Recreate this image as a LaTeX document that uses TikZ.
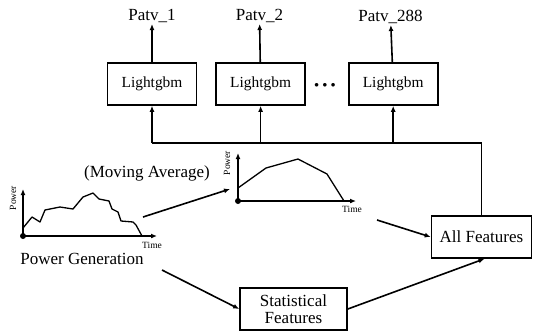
\documentclass[tikz,border=0pt]{standalone}
\usepackage{fontspec}
\setmainfont{Liberation Serif}
\usetikzlibrary{arrows.meta,positioning}
\tikzstyle{arrow} = [line width=1.6pt,-{Latex[length=6pt,width=5pt]}]
\tikzstyle{axis} = [line width=1.6pt,-{Latex[length=6pt,width=5pt]}]
\tikzstyle{curve} = [line width=1.3pt, line join=round]
\tikzstyle{model} = [rectangle, draw, line width=1.6pt, minimum width=89pt, minimum height=42pt, font=\fontsize{15.4}{18}\selectfont]
\tikzstyle{feature} = [rectangle, draw, line width=1.6pt, minimum height=42pt, align=center, font=\fontsize{17}{17}\selectfont]
\tikzstyle{txt} = [inner sep=1pt, font=\fontsize{17}{20}\selectfont]
\tikzstyle{small} = [inner sep=0pt, font=\fontsize{9.5}{11}\selectfont]

\begin{document}
\begin{tikzpicture}[x=1pt, y=-1pt]
\useasboundingbox (0,0) rectangle (533,333);
% Models
\node (lgb1) [model] at (152,84) {Lightgbm};
\node (lgb2) [model, right=18pt of lgb1] {Lightgbm};
\node (lgb3) [model, right=42pt of lgb2] {Lightgbm};
\node (dots) at (325,85) {\fontsize{9}{9}\selectfont$\bullet\,\bullet\,\bullet$};

% Outputs
\node (out1) [txt, anchor=south] at (152,24) {Patv\_1};
\node (out2) [txt, anchor=south] at (259.5,24) {Patv\_2};
\node (out3) [txt, anchor=south] at (390.5,25) {Patv\_288};
\draw[arrow] (lgb1) -- (out1);
\draw[arrow] (lgb2) -- (out2);
\draw[arrow] (lgb3) -- (out3);

% Features
\node (allf) [feature, minimum width=100pt] at (481.5,237) {All Features};
\node (stat) [feature, minimum width=107pt] at (293.5,309) {Statistical\\Features};
\coordinate (bus) at (0,143);
\draw[line width=1.6pt] (allf.north) |- (lgb1.south |- bus);
\draw[arrow] (lgb1.south |- bus) -- (lgb1);
\draw[arrow] (lgb2.south |- bus) -- (lgb2);
\draw[arrow] (lgb3.south |- bus) -- (lgb3);

% Power generation curve
\coordinate (o1) at (23,236);
\draw[axis] (o1) -- (23,189);
\draw[axis] (o1) -- (157,236);
\fill (o1) circle (3pt);
\draw[curve] (23,228) -- (32,217) -- (40,222) -- (45,210) -- (60,207) -- (73,209)
  -- (83,197) -- (93,193) -- (99,199) -- (109,201) -- (112,209) -- (118,212)
  -- (121,221) -- (133,222) -- (136,225) -- (142,236);
\node (pow1) [small, rotate=90] at (13,198) {Power};
\node (time1) [small] at (152,245) {Time};
\node (pg) [txt] at (82,259) {Power Generation};

% Moving average curve
\coordinate (o2) at (238,201);
\draw[axis] (o2) -- (238,153);
\draw[axis] (o2) -- (356,201);
\fill (o2) circle (3pt);
\draw[curve] (238,188) -- (266,168) -- (298,159) -- (327,174) -- (344,201);
\node (pow2) [small, rotate=90] at (227,163) {Power};
\node (time2) [small] at (352,209) {Time};
\node (ma) [txt] at (147,173) {(Moving Average)};

% Flows
\coordinate (pgout) at (143,217);
\coordinate (main) at (230,189);
\coordinate (maout) at (377,220);
\coordinate (pgstat) at (162,270);
\draw[arrow] (pgout) -- (main);
\draw[arrow] (maout) -- (allf.west);
\draw[arrow] (pgstat) -- (stat.west);
\draw[arrow] (stat.east) -- ([xshift=3pt]allf.south);
\end{tikzpicture}
\end{document}
